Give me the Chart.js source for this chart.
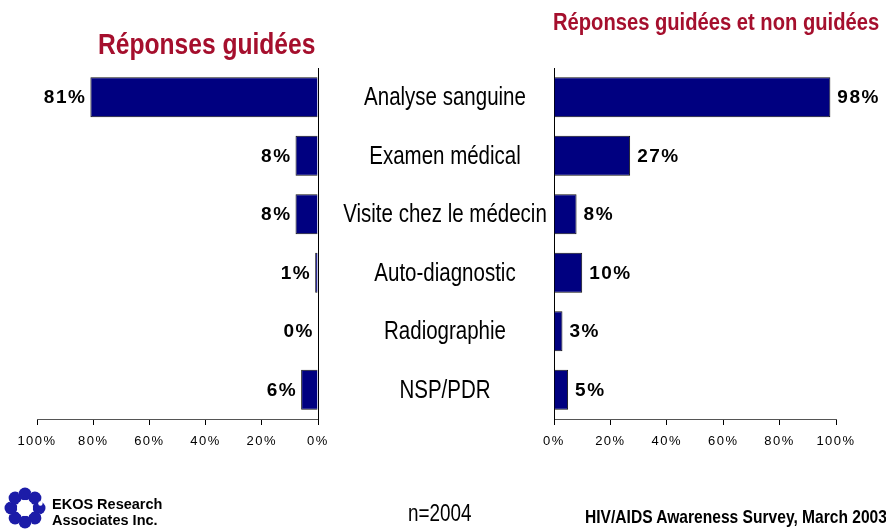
<!DOCTYPE html>
<html>
<head>
<meta charset="utf-8">
<script src="https://cdn.jsdelivr.net/npm/chart.js@4.4.6/dist/chart.umd.js"></script>
<style>
body { margin: 0; width: 886px; height: 531px; position: relative; background: #fff; overflow: hidden;
       font-family: "Liberation Sans", Arial, sans-serif; }
canvas { position: absolute; left: 0; top: 0; }
.t { position: absolute; white-space: nowrap; }
.narrow { transform: scaleX(0.82); transform-origin: 0 0; }
.title { color: #a50f2d; font-weight: bold; }
.ekos { font-weight: bold; font-size: 14.5px; line-height: 15px; left: 52px; }
</style>
</head>
<body>
<canvas id="leftChart" width="886" height="531"></canvas>
<canvas id="rightChart" width="886" height="531"></canvas>

<div class="t title narrow" style="left:98px;top:29px;font-size:30px;line-height:30px;">Réponses guidées</div>
<div class="t title narrow" style="left:553px;top:10px;font-size:24.6px;line-height:24px;">Réponses guidées et non guidées</div>

<svg class="t" style="left:3px;top:486px" width="46" height="45" id="logo"></svg>
<div class="t ekos" style="top:497px">EKOS Research</div>
<div class="t ekos" style="top:513px">Associates Inc.</div>
<div class="t narrow" style="left:408px;top:502px;font-size:23px;line-height:23px;">n=2004</div>
<div class="t narrow" style="left:585px;top:507px;font-size:19px;line-height:19px;font-weight:bold;">HIV/AIDS Awareness Survey, March 2003</div>

<script>
// data
const categories = ['Analyse sanguine', 'Examen médical', 'Visite chez le médecin', 'Auto-diagnostic', 'Radiographie', 'NSP/PDR'];
const guidees = [81, 8, 8, 1, 0, 6];
const guideesEtNon = [98, 27, 8, 10, 3, 5];
const tickValues = [0, 20, 40, 60, 80, 100];

const navy = '#000080';

// logo: ring of small curls
(function () {
    const svg = document.getElementById('logo');
    let s = '';
    for (let i = 0; i < 8; i++) {
        const a = i * Math.PI / 4;
        const cx = 22 + 14 * Math.cos(a), cy = 22 + 14 * Math.sin(a);
        const ix = 22 + 16 * Math.cos(a + 0.5), iy = 22 + 16 * Math.sin(a + 0.5);
        s += '<circle cx="' + cx.toFixed(1) + '" cy="' + cy.toFixed(1) + '" r="6.5" fill="#1c1ca8"/>';
        s += '<circle cx="' + ix.toFixed(1) + '" cy="' + iy.toFixed(1) + '" r="2.2" fill="#fff"/>';
    }
    s += '<circle cx="22" cy="22" r="8" fill="#fff"/>';
    svg.innerHTML = s;
})();

// bold % labels next to bars, and category names between both charts
const barLabels = {
    id: 'barLabels',
    beforeDraw(chart) {
        chart.ctx.letterSpacing = '1.5px';
    },
    afterDraw(chart, args, opts) {
        const ctx = chart.ctx;
        ctx.save();
        ctx.letterSpacing = '1.5px';
        ctx.font = 'bold 19px "Liberation Sans", Arial, sans-serif';
        ctx.fillStyle = '#000';
        ctx.textBaseline = 'middle';
        const meta = chart.getDatasetMeta(0);
        meta.data.forEach((bar, i) => {
            const txt = chart.data.datasets[0].data[i] + '%';
            if (opts.side === 'left') {
                ctx.textAlign = 'right';
                ctx.fillText(txt, bar.x - 4, bar.y + 1);
            } else {
                ctx.textAlign = 'left';
                ctx.fillText(txt, bar.x + 7, bar.y + 1);
            }
        });
        if (opts.side === 'left') {
            ctx.letterSpacing = '0px';
            ctx.font = '25px "Liberation Sans", Arial, sans-serif';
            ctx.textAlign = 'center';
            const y = chart.scales.y;
            categories.forEach((c, i) => {
                ctx.save();
                ctx.translate(445, y.getPixelForValue(i) + 1);
                ctx.scale(0.82, 1);
                ctx.fillText(c, 0, 0);
                ctx.restore();
            });
        }
        ctx.restore();
        ctx.letterSpacing = '0px';
    }
};

function makeChart(id, values, side) {
    const left = side === 'left';
    return new Chart(document.getElementById(id), {
        type: 'bar',
        data: {
            labels: categories,
            datasets: [{
                data: values,
                backgroundColor: navy,
                borderColor: '#111',
                borderWidth: 1,
                barPercentage: 0.68,
                categoryPercentage: 1
            }]
        },
        options: {
            indexAxis: 'y',
            responsive: false,
            animation: false,
            layout: {
                padding: left ? { left: 37, right: 886 - 318, top: 68, bottom: 82 }
                              : { left: 554, right: 886 - 836, top: 68, bottom: 82 }
            },
            plugins: {
                legend: { display: false },
                tooltip: { enabled: false },
                barLabels: { side: side }
            },
            scales: {
                x: {
                    min: 0,
                    max: 100,
                    reverse: left,
                    afterBuildTicks: (scale) => { scale.ticks = tickValues.map(v => ({ value: v })); },
                    afterFit: (scale) => { scale.height = 30; },
                    grid: { drawOnChartArea: false, drawTicks: true, tickLength: 6, color: '#000' },
                    border: { display: true, color: '#555' },
                    ticks: {
                        padding: 9,
                        color: '#000',
                        font: { family: '"Liberation Sans", Arial, sans-serif', size: 13 },
                        maxRotation: 0,
                        callback: (v) => v + '%'
                    }
                },
                y: {
                    position: left ? 'right' : 'left',
                    afterFit: (scale) => { scale.width = 0; },
                    grid: { display: false },
                    border: { display: true, color: '#000' },
                    ticks: { display: false }
                }
            }
        },
        plugins: [barLabels]
    });
}

makeChart('leftChart', guidees, 'left');
makeChart('rightChart', guideesEtNon, 'right');
</script>
</body>
</html>
